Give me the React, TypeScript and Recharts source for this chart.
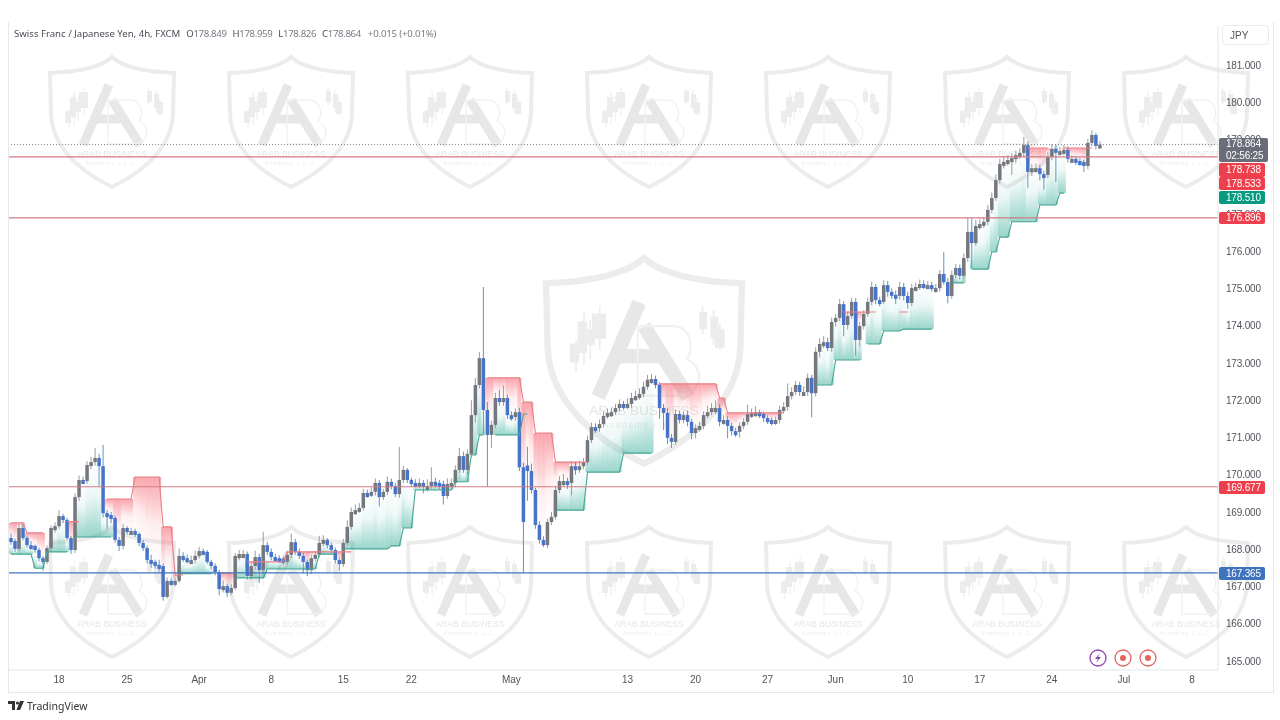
import React from 'react'
import { Bar, ComposedChart, Line, ReferenceLine, XAxis, YAxis } from 'recharts'

const CHART_W = 1280
const CHART_H = 720
const SLOT_COUNT = 302

const opens = [
  168.30,168.22,168.01,168.57,168.30,168.11,168.09,167.98,167.76,167.66,
  168.03,168.57,168.62,168.89,168.79,168.30,167.98,169.40,169.86,169.83,
  170.26,170.34,170.45,170.23,168.97,168.92,168.84,168.25,168.09,168.57,
  168.49,168.49,168.41,168.17,168.03,167.71,167.66,167.58,167.55,166.72,
  167.15,167.12,167.15,167.82,167.76,167.71,167.71,167.82,167.95,167.93,
  167.66,167.55,167.39,166.93,167.01,166.83,166.96,167.82,167.87,167.87,
  167.28,167.55,167.79,167.44,168.11,167.93,167.79,167.76,167.74,167.66,
  167.85,168.19,167.93,167.82,167.66,167.44,167.76,167.85,168.17,168.25,
  168.11,167.98,167.71,167.60,168.17,168.60,169.00,169.05,169.11,169.51,
  169.48,169.54,169.78,169.40,169.54,169.81,169.70,169.48,169.86,170.13,
  169.86,169.78,169.75,169.78,169.67,169.70,169.81,169.78,169.75,169.43,
  169.75,169.78,170.13,170.50,170.13,170.56,171.60,172.41,173.13,171.74,
  171.07,171.34,172.06,171.95,172.06,171.60,171.55,171.68,170.20,170.25,
  170.10,169.59,168.65,168.25,168.11,168.73,168.87,169.59,169.83,169.83,
  169.78,170.23,170.13,170.23,170.34,170.93,171.28,171.25,171.36,171.58,
  171.66,171.68,171.79,171.90,171.85,171.90,172.06,172.11,172.17,172.36,
  172.55,172.57,172.41,171.79,171.66,170.99,170.88,171.63,171.47,171.60,
  171.42,171.12,171.25,171.31,171.60,171.68,171.79,171.79,171.42,171.47,
  171.31,171.17,171.15,171.31,171.42,171.63,171.66,171.68,171.63,171.52,
  171.47,171.42,171.47,171.74,171.82,172.11,172.22,172.41,172.22,172.22,
  172.60,172.19,173.30,173.51,173.56,173.40,174.10,174.21,174.58,174.02,
  174.26,174.64,173.62,173.99,174.32,174.64,175.04,174.69,174.64,175.09,
  174.91,174.83,174.80,175.04,174.80,174.61,175.01,175.04,175.12,175.09,
  175.09,175.01,175.01,175.39,175.17,174.80,175.36,175.55,175.34,175.82,
  176.52,176.22,176.68,176.73,176.79,177.11,177.43,177.91,178.34,178.40,
  178.45,178.50,178.58,178.64,178.85,178.13,178.23,178.23,178.07,178.05,
  178.53,178.75,178.66,178.69,178.72,178.48,178.48,178.42,178.40,178.29,
  178.91,179.12,178.849,
]

const highs = [
  168.42,168.28,168.68,168.66,168.36,168.22,168.12,168.04,167.82,168.10,
  168.64,168.72,169.05,168.95,168.84,168.36,169.50,169.98,169.95,170.36,
  170.48,170.72,170.56,170.80,169.05,169.00,168.90,168.33,168.68,168.62,
  168.58,168.55,168.46,168.25,168.10,167.85,167.72,167.72,167.62,167.24,
  167.22,167.24,168.02,167.92,167.86,167.83,167.96,168.06,168.02,167.98,
  167.72,167.62,167.45,167.16,167.08,167.06,167.90,167.98,167.98,167.94,
  167.62,167.96,167.88,168.47,168.20,168.02,167.88,167.84,167.80,167.96,
  168.42,168.28,168.02,167.90,167.72,167.85,167.95,168.36,168.38,168.30,
  168.18,168.05,167.78,168.28,168.78,169.12,169.20,169.24,169.62,169.60,
  169.66,169.90,169.86,169.62,169.95,169.90,169.78,170.75,170.24,170.18,
  169.92,169.88,169.90,169.86,169.88,170.20,169.92,169.86,169.84,169.90,
  169.90,170.25,170.72,170.62,170.68,172.00,172.60,173.30,175.04,171.95,
  171.45,172.20,172.28,172.40,172.15,171.70,171.78,171.80,170.32,170.75,
  170.30,169.65,168.75,168.35,168.82,169.00,169.70,169.96,170.02,169.92,
  170.36,170.35,170.38,170.45,171.05,171.40,171.38,171.48,171.70,171.78,
  171.80,171.90,172.02,171.98,172.05,172.20,172.25,172.32,172.50,172.68,
  172.70,172.66,172.48,171.90,171.80,171.10,171.75,171.72,171.70,171.72,
  171.50,171.35,171.42,171.70,171.85,171.92,172.00,171.90,171.60,171.58,
  171.40,171.26,171.40,171.52,171.88,171.78,171.84,171.75,171.70,171.60,
  171.54,171.56,171.85,171.95,172.45,172.35,172.52,172.50,172.38,172.72,
  172.68,173.42,173.66,173.72,173.68,174.22,174.32,174.72,174.66,174.38,
  174.75,174.74,174.10,174.42,174.76,175.18,175.12,174.78,175.22,175.20,
  175.00,174.95,175.18,175.15,174.92,175.12,175.16,175.24,175.22,175.20,
  175.18,175.12,175.50,175.98,175.28,175.48,175.66,175.64,175.94,176.89,
  176.88,176.84,176.86,176.92,177.24,177.58,178.06,178.48,178.55,178.58,
  178.62,178.70,178.76,179.07,178.95,178.34,178.36,178.32,178.16,178.66,
  178.88,178.86,178.80,178.85,178.82,178.58,178.56,178.50,178.46,179.02,
  179.25,179.18,178.959,
]

const lows = [
  168.12,167.93,167.96,168.24,168.04,168.00,167.90,167.68,167.42,167.60,
  167.96,168.45,168.55,168.70,168.25,167.88,167.90,169.30,169.74,169.76,
  170.15,170.25,169.70,168.85,168.55,168.70,168.18,167.95,168.00,168.40,
  168.40,168.33,168.08,167.95,167.62,167.50,167.48,167.40,166.62,166.68,
  167.02,167.00,167.10,167.66,167.62,167.60,167.62,167.75,167.85,167.60,
  167.46,167.30,166.76,166.84,166.72,166.76,166.90,167.70,167.78,167.18,
  167.18,167.45,167.09,167.30,167.84,167.70,167.68,167.64,167.58,167.58,
  167.76,167.85,167.74,167.35,167.28,167.33,167.68,167.78,168.08,168.02,
  167.88,167.62,167.42,167.52,168.10,168.52,168.92,168.98,169.04,169.38,
  169.40,169.44,169.15,169.32,169.45,169.60,169.40,169.38,169.78,169.78,
  169.68,169.66,169.65,169.50,169.55,169.62,169.66,169.62,169.20,169.35,
  169.65,169.66,170.05,170.05,170.00,170.48,171.40,172.32,171.10,169.68,
  170.72,171.25,171.85,171.85,171.50,171.45,171.45,170.10,167.36,169.30,
  169.50,168.55,168.15,168.06,168.03,168.65,168.80,169.50,169.70,169.62,
  169.45,170.00,170.05,170.15,170.26,170.85,171.12,171.15,171.28,171.50,
  171.55,171.60,171.70,171.75,171.76,171.80,171.98,172.02,172.08,172.28,
  172.44,172.32,171.50,171.20,170.82,170.72,170.80,171.38,171.38,171.30,
  170.95,170.98,171.16,171.22,171.52,171.60,171.62,171.30,171.34,170.98,
  171.05,171.02,171.00,171.22,171.34,171.52,171.56,171.52,171.42,171.36,
  171.32,171.34,171.38,171.65,171.72,172.02,172.14,172.12,172.14,172.12,
  171.54,172.10,173.15,173.40,173.32,173.30,173.98,174.12,173.72,173.90,
  174.18,173.20,173.44,173.90,174.24,174.55,174.58,174.52,174.58,174.78,
  174.72,174.58,174.70,174.68,174.46,174.52,174.92,174.96,174.98,175.00,
  174.92,174.90,174.92,175.10,174.60,174.72,175.28,175.24,175.26,175.72,
  175.55,176.14,176.58,176.62,176.70,177.02,177.35,177.82,178.22,178.30,
  178.05,178.36,178.48,178.55,177.70,178.02,178.12,177.90,177.65,177.96,
  178.44,177.86,178.58,178.58,178.38,178.38,178.32,178.30,178.13,178.20,
  178.82,178.74,178.826,
]

const closes = [
  168.22,168.01,168.57,168.30,168.11,168.09,167.98,167.76,167.66,168.03,
  168.57,168.62,168.89,168.79,168.30,167.98,169.40,169.86,169.83,170.26,
  170.34,170.45,170.23,168.97,168.92,168.84,168.25,168.09,168.57,168.49,
  168.49,168.41,168.17,168.03,167.71,167.66,167.58,167.55,166.72,167.15,
  167.12,167.15,167.82,167.76,167.71,167.71,167.82,167.95,167.93,167.66,
  167.55,167.39,166.93,167.01,166.83,166.96,167.82,167.87,167.87,167.28,
  167.55,167.79,167.44,168.11,167.93,167.79,167.76,167.74,167.66,167.85,
  168.19,167.93,167.82,167.66,167.44,167.76,167.85,168.17,168.25,168.11,
  167.98,167.71,167.60,168.17,168.60,169.00,169.05,169.11,169.51,169.48,
  169.54,169.78,169.40,169.54,169.81,169.70,169.48,169.86,170.13,169.86,
  169.78,169.75,169.78,169.67,169.70,169.81,169.78,169.75,169.43,169.75,
  169.78,170.13,170.50,170.13,170.56,171.60,172.41,173.13,171.74,171.07,
  171.34,172.06,171.95,172.06,171.60,171.55,171.68,170.20,168.73,170.10,
  169.59,168.65,168.25,168.11,168.73,168.87,169.59,169.83,169.83,169.78,
  170.23,170.13,170.23,170.34,170.93,171.28,171.25,171.36,171.58,171.66,
  171.68,171.79,171.90,171.85,171.90,172.06,172.11,172.17,172.36,172.55,
  172.57,172.41,171.79,171.66,170.99,170.88,171.63,171.47,171.60,171.42,
  171.12,171.25,171.31,171.60,171.68,171.79,171.79,171.42,171.47,171.31,
  171.17,171.15,171.31,171.42,171.63,171.66,171.68,171.63,171.52,171.47,
  171.42,171.47,171.74,171.82,172.11,172.22,172.41,172.22,172.22,172.60,
  172.19,173.30,173.51,173.56,173.40,174.10,174.21,174.58,174.02,174.26,
  174.64,173.62,173.99,174.32,174.64,175.04,174.69,174.64,175.09,174.91,
  174.83,174.80,175.04,174.80,174.61,175.01,175.04,175.12,175.09,175.09,
  175.01,175.01,175.39,175.17,174.80,175.36,175.55,175.34,175.82,176.52,
  176.22,176.68,176.73,176.79,177.11,177.43,177.91,178.34,178.40,178.45,
  178.50,178.58,178.64,178.85,178.13,178.23,178.23,178.07,178.05,178.53,
  178.75,178.66,178.69,178.72,178.48,178.48,178.42,178.40,178.29,178.91,
  179.12,178.83,178.864,
]

// demand zones (teal steps): candle index from / to, price level
const supportFrom = [0,6,9,16,42,56,64,77,83,95,98,101,111,115,117,121,128,136,144,153,201,206,214,218,223,235,240,245,247,250,257,262]
const supportTo = [5,8,14,25,50,63,76,81,94,97,100,110,114,116,118,127,129,143,152,160,205,212,217,222,230,238,244,246,249,256,261,263]
const supportLevel = [167.87,167.49,167.93,168.33,167.34,167.23,167.47,167.87,168.01,168.09,168.57,169.59,169.81,170.53,171.07,171.07,171.63,169.05,170.07,170.58,172.41,173.08,173.51,173.86,173.91,175.15,175.52,175.98,176.38,176.79,177.24,177.56]

// supply zones (red steps)
const resistFrom = [0,4,14,24,31,38,41,52,59,69,119,128,131,136,162,177,179,208,222,254,263]
const resistTo = [3,8,17,30,37,40,43,55,68,85,127,130,135,144,176,178,193,216,224,259,270]
const resistLevel = [168.71,168.44,168.74,169.35,169.94,168.60,167.31,167.36,167.66,167.93,172.60,171.95,171.12,170.34,172.44,172.06,171.66,174.37,174.37,178.77,178.77]

// 178.000 is fully hidden by the price tags in the reference
const priceTicks = [165,166,167,168,169,170,171,172,173,174,175,176,177,179,180,181]
const dateTickSlots = [12,29,47,65,83,100,125,154,171,189,206,224,242,260,278,295]
const dateTickLabels = ['18','25','Apr','8','15','22','May','13','20','27','Jun','10','17','24','Jul','8']

const lastPrice = 178.864
const redLevels = [178.533,176.896,169.677]
const blueLevel = 167.365
const countdown = '02:56:25'
const ohlcLabels = ['O','H','L','C']
const ohlcValues = ['178.849','178.959','178.826','178.864']

const shieldColumns = [112,291,470,649,828,1007,1186]
const shieldRows = [55,525]

function expandLevels(from: number[], to: number[], level: number[]) {
  const out: (number | null)[] = new Array(SLOT_COUNT).fill(null)
  from.forEach((start, k) => {
    for (let i = start; i <= to[k]; i++) out[i] = level[k]
  })
  return out
}

const supportLine = expandLevels(supportFrom, supportTo, supportLevel)
const resistLine = expandLevels(resistFrom, resistTo, resistLevel)

const rows = Array.from({ length: SLOT_COUNT }, (_, i) => {
  const hasCandle = i < closes.length
  const close = hasCandle ? closes[i] : null
  const support = supportLine[i]
  const resist = resistLine[i]
  return {
    idx: i,
    open: hasCandle ? opens[i] : null,
    close,
    range: hasCandle ? [lows[i], highs[i]] : null,
    support,
    resist,
    greenFill: support != null && close != null && close > support ? [support, close] : null,
    redFill: resist != null && close != null && close < resist ? [close, resist] : null,
  }
})

const FONT = '"Noto Sans", sans-serif'
const AXIS_FONT = '"Liberation Sans", sans-serif'

function Candle(props: any) {
  const { x, y, width, height, payload } = props
  if (!payload.range || !(height > 0)) return null
  const [low, high] = payload.range
  const k = height / (high - low)
  const up = payload.close >= payload.open
  const color = up ? '#74777d' : '#4773c8'
  const wick = up ? '#9a9ca1' : '#5d96c4'
  const bodyH = Math.max(Math.abs(payload.open - payload.close) * k, 4)
  const bodyTop = y + (high - Math.max(payload.open, payload.close)) * k
  return (
    <g>
      <rect x={x + width / 2 - 0.5} y={y} width={1} height={height} fill={wick} />
      <rect x={x + 0.25} y={bodyTop} width={width - 0.5} height={bodyH} fill={color} />
    </g>
  )
}

function FillColumn(props: any) {
  const { x, y, width, height, payload, dataKey, fill } = props
  if (!payload[dataKey] || !(height > 0)) return null
  return <rect x={x} y={y} width={width} height={height} fill={fill} />
}

function Shield({ cx, top, scale = 1 }: { cx: number; top: number; scale?: number }) {
  const c = '#ececec'
  return (
    <g transform={`translate(${cx} ${top}) scale(${scale})`}>
      <path d="M0,2 C12,13 36,17 62,18 L61,58 C60,92 32,116 0,132 C-32,116 -60,92 -61,58 L-62,18 C-36,17 -12,13 0,2 Z" fill="none" stroke={c} strokeWidth={4} />
      <path d="M-3,30 L-29,90 M0,45 L28,90 M-18,64 L12,64" fill="none" stroke="#e7e7e7" strokeWidth={9} />
      <path d="M-4,45 L18,45 C30,45 32,60 27,66 C40,72 36,89 22,89 L-4,89 Z" fill="none" stroke="#f1f1f1" strokeWidth={1.3} />
      <path d="M-43,54 L-43,74 M-38,36 L-38,70 M-34,41 L-34,66 M-28,32 L-28,60 M37,32 L37,50 M44,35 L44,57 M48,43 L48,60" stroke={c} strokeWidth={1} />
      <rect x={-47} y={56} width={6} height={12} fill={c} />
      <rect x={-42} y={42} width={6} height={20} fill={c} />
      <rect x={-36} y={47} width={5} height={10} fill={c} />
      <rect x={-33} y={37} width={9} height={16} fill={c} />
      <rect x={35} y={36} width={5} height={11} fill={c} />
      <rect x={42} y={39} width={5} height={14} fill={c} />
      <rect x={45} y={47} width={6} height={12} fill={c} />
      <text x={0} y={101.5} textAnchor="middle" fontFamily={AXIS_FONT} fontSize={8.6} fill="#e6e6e6">ARAB BUSINESS</text>
      <text x={0} y={109.5} textAnchor="middle" fontFamily={AXIS_FONT} fontSize={5.4} letterSpacing={1} fill="#ececec">Academy L.L.C.</text>
    </g>
  )
}

function Tag({ top, height, width, bg, lines }: { top: number; height: number; width: number; bg: string; lines: string[] }) {
  return (
    <div style={{ position: 'absolute', left: 1219, top, width, height, background: bg, color: '#fff', fontFamily: AXIS_FONT, fontSize: 10, letterSpacing: -0.2, paddingLeft: 7, boxSizing: 'border-box', lineHeight: `${height / lines.length}px`, borderRadius: 2 }}>
      {lines.map(t => <div key={t}>{t}</div>)}
    </div>
  )
}

export default function App() {
  return (
    <div style={{ position: 'absolute', left: 0, top: 0, width: CHART_W, height: CHART_H, background: '#fff', overflow: 'hidden', filter: 'blur(0.35px)' }}>
      {/* watermark sits behind the chart */}
      <svg width={CHART_W} height={CHART_H} style={{ position: 'absolute', left: 0, top: 0 }}>
        {shieldRows.map(top => shieldColumns.map(cx => <Shield key={`${cx}-${top}`} cx={cx} top={top} />))}
        <Shield cx={644} top={255} scale={1.58} />
      </svg>

      <div style={{ position: 'absolute', left: 0, top: 0 }}>
        <ComposedChart width={CHART_W} height={CHART_H} data={rows} barCategoryGap={0} barGap={0} margin={{ top: 26, right: 0, bottom: 0, left: 9 }}>
          <defs>
            <linearGradient id="greenColumn" x1="0" y1="0" x2="0" y2="1">
              <stop offset="0%" stopColor="#089981" stopOpacity={0} />
              <stop offset="45%" stopColor="#089981" stopOpacity={0.07} />
              <stop offset="100%" stopColor="#089981" stopOpacity={0.42} />
            </linearGradient>
            <linearGradient id="redColumn" x1="0" y1="0" x2="0" y2="1">
              <stop offset="0%" stopColor="#f23645" stopOpacity={0.45} />
              <stop offset="55%" stopColor="#f23645" stopOpacity={0.08} />
              <stop offset="100%" stopColor="#f23645" stopOpacity={0} />
            </linearGradient>
          </defs>
          <XAxis
            dataKey="idx"
            type="category"
            ticks={dateTickSlots}
            interval={0}
            height={50}
            tickSize={0}
            tickMargin={6}
            axisLine={{ stroke: '#e3e5ea' }}
            tickLine={false}
            tick={{ fill: '#50535b', fontSize: 10, fontFamily: AXIS_FONT }}
            tickFormatter={(v: number) => dateTickLabels[dateTickSlots.indexOf(v)]}
          />
          <XAxis xAxisId="green" dataKey="idx" type="category" hide />
          <XAxis xAxisId="red" dataKey="idx" type="category" hide />
          <YAxis
            orientation="right"
            width={62}
            domain={[164.758, 182.047]}
            ticks={priceTicks}
            interval={0}
            allowDataOverflow
            tickSize={0}
            tickMargin={8}
            axisLine={{ stroke: '#e3e5ea' }}
            tickLine={false}
            tick={{ fill: '#50535b', fontSize: 10, fontFamily: AXIS_FONT, letterSpacing: -0.2 }}
            tickFormatter={(v: number) => v.toFixed(3)}
          />
          <Bar xAxisId="green" dataKey="greenFill" fill="url(#greenColumn)" shape={<FillColumn />} isAnimationActive={false} />
          <Bar xAxisId="red" dataKey="redFill" fill="url(#redColumn)" shape={<FillColumn />} isAnimationActive={false} />
          <Line dataKey="support" type="linear" stroke="#43a593" strokeWidth={1.1} dot={false} connectNulls={false} isAnimationActive={false} />
          <Line dataKey="resist" type="linear" stroke="#e87f87" strokeWidth={1.1} dot={false} connectNulls={false} isAnimationActive={false} />
          {redLevels.map(v => <ReferenceLine key={v} y={v} stroke="#d27b84" strokeWidth={1.2} />)}
          <ReferenceLine y={blueLevel} stroke="#3f74bd" strokeWidth={1.2} />
          <ReferenceLine y={lastPrice} stroke="#80838c" strokeWidth={1} strokeDasharray="1 2" />
          <Bar dataKey="range" shape={<Candle />} isAnimationActive={false} />
        </ComposedChart>
      </div>

      {/* legend line */}
      <div style={{ position: 'absolute', left: 14, top: 26, fontFamily: FONT, fontSize: 9.6, lineHeight: '16px', color: '#4a4d55', whiteSpace: 'nowrap' }}>
        Swiss Franc / Japanese Yen, 4h, FXCM
        {ohlcLabels.map((l, i) => (
          <span key={l} style={{ marginLeft: 6, letterSpacing: -0.35 }}>{l}<span style={{ color: '#777b83' }}>{ohlcValues[i]}</span></span>
        ))}
        <span style={{ marginLeft: 7, letterSpacing: -0.15, color: '#777b83' }}>+0.015 (+0.01%)</span>
      </div>

      {/* frame */}
      <div style={{ position: 'absolute', left: 8, top: 22, width: 1264, height: 670, borderLeft: '1px solid #e8e8e8', borderRight: '1px solid #e8e8e8', borderBottom: '1px solid #e8e8e8', pointerEvents: 'none' }} />

      <div style={{ position: 'absolute', left: 1222, top: 25, width: 47, height: 20, border: '1px solid #e8eaee', borderRadius: 4, fontFamily: AXIS_FONT, fontSize: 10, lineHeight: '20px', paddingLeft: 7, boxSizing: 'border-box', color: '#555' }}>JPY</div>

      <Tag top={138} height={24} width={49} bg="#6a6d78" lines={[lastPrice.toFixed(3), countdown]} />
      <Tag top={163} height={14} width={46} bg="#ee3f4d" lines={['178.738']} />
      <Tag top={177} height={13} width={46} bg="#ee3f4d" lines={[redLevels[0].toFixed(3)]} />
      <Tag top={191} height={13} width={46} bg="#089981" lines={['178.510']} />
      <Tag top={212} height={12} width={46} bg="#ee3f4d" lines={[redLevels[1].toFixed(3)]} />
      <Tag top={481} height={13} width={46} bg="#ee3f4d" lines={[redLevels[2].toFixed(3)]} />
      <Tag top={567} height={13} width={46} bg="#3f74bd" lines={[blueLevel.toFixed(3)]} />

      {/* event icons and logo */}
      <svg width={CHART_W} height={CHART_H} style={{ position: 'absolute', left: 0, top: 0, pointerEvents: 'none' }}>
        <circle cx={1098} cy={658} r={8} fill="#fff" stroke="#8e44ad" strokeWidth={1.3} />
        <path d="M1100,653 L1095,659 L1098,659 L1096,663 L1101,657 L1098,657 Z" fill="#8e44ad" />
        {[1123, 1148].map(cx => (
          <g key={cx}>
            <circle cx={cx} cy={658} r={8} fill="#fff" stroke="#e0655f" strokeWidth={1.3} />
            <circle cx={cx} cy={658} r={3} fill="#e0655f" />
          </g>
        ))}
        <path d="M8,701 H15 V710 H12 V704 H8 Z" fill="#333" />
        <circle cx={17.5} cy={703} r={1.6} fill="#333" />
        <path d="M20,701 H24 L20,710 H16.5 Z" fill="#333" />
        <text x={27} y={709.5} fontFamily={FONT} fontSize={10.5} fill="#333">TradingView</text>
      </svg>
    </div>
  )
}
